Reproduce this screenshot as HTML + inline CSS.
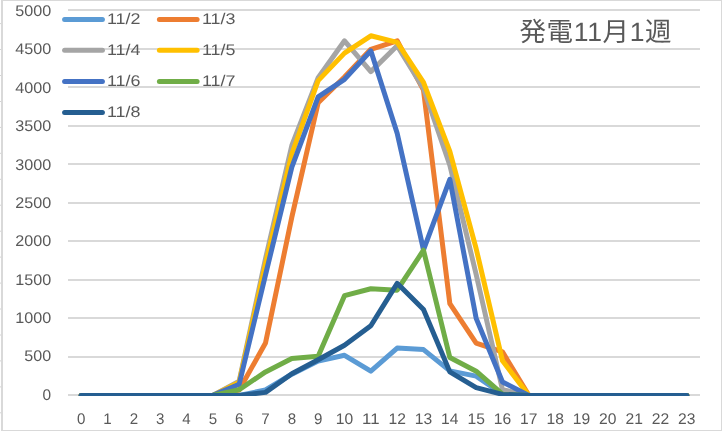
<!DOCTYPE html>
<html lang="ja"><head><meta charset="utf-8"><title>発電11月1週</title>
<style>
html,body{margin:0;padding:0;background:#fff;}
body{width:722px;height:431px;overflow:hidden;font-family:"Liberation Sans",sans-serif;}
svg{display:block;will-change:transform;}
svg text{text-rendering:geometricPrecision;font-family:"Liberation Sans",sans-serif;fill:#595959;}
</style></head>
<body>
<svg width="722" height="431" viewBox="0 0 722 431">
<rect x="0" y="0" width="722" height="431" fill="#fff"/>
<g stroke="#D4D4D4" stroke-width="1">
<line x1="0" y1="23.6" x2="1.5" y2="23.6"/>
<line x1="0" y1="49.5" x2="1.5" y2="49.5"/>
<line x1="0" y1="75.5" x2="1.5" y2="75.5"/>
<line x1="0" y1="101.5" x2="1.5" y2="101.5"/>
<line x1="0" y1="127.4" x2="1.5" y2="127.4"/>
<line x1="0" y1="153.3" x2="1.5" y2="153.3"/>
<line x1="0" y1="179.3" x2="1.5" y2="179.3"/>
<line x1="0" y1="205.2" x2="1.5" y2="205.2"/>
<line x1="0" y1="231.2" x2="1.5" y2="231.2"/>
<line x1="0" y1="257.1" x2="1.5" y2="257.1"/>
<line x1="0" y1="283.1" x2="1.5" y2="283.1"/>
<line x1="0" y1="309.0" x2="1.5" y2="309.0"/>
<line x1="0" y1="335.0" x2="1.5" y2="335.0"/>
<line x1="0" y1="360.9" x2="1.5" y2="360.9"/>
<line x1="0" y1="386.9" x2="1.5" y2="386.9"/>
<line x1="0" y1="412.8" x2="1.5" y2="412.8"/>
</g>
<rect x="2" y="0.5" width="719.5" height="430" fill="#fff" stroke="none"/>
<g fill="#D9D9D9">
<rect x="1" y="0" width="721" height="1"/>
<rect x="1" y="0" width="2" height="431"/>
<rect x="721" y="0" width="1" height="431"/>
<rect x="1" y="430" width="721" height="1"/>
</g>
<g stroke="#D9D9D9" stroke-width="2">
<line x1="68.0" y1="395" x2="700.0" y2="395"/>
<line x1="68.0" y1="357" x2="700.0" y2="357"/>
<line x1="68.0" y1="318" x2="700.0" y2="318"/>
<line x1="68.0" y1="280" x2="700.0" y2="280"/>
<line x1="68.0" y1="241" x2="700.0" y2="241"/>
<line x1="68.0" y1="203" x2="700.0" y2="203"/>
<line x1="68.0" y1="164" x2="700.0" y2="164"/>
<line x1="68.0" y1="126" x2="700.0" y2="126"/>
<line x1="68.0" y1="87" x2="700.0" y2="87"/>
<line x1="68.0" y1="49" x2="700.0" y2="49"/>
<line x1="68.0" y1="10" x2="700.0" y2="10"/>
</g>
<g font-size="15.4px" text-anchor="end">
<text x="51.2" y="399.80" textLength="8.6" lengthAdjust="spacingAndGlyphs">0</text>
<text x="51.2" y="361.42" textLength="26.9" lengthAdjust="spacingAndGlyphs">500</text>
<text x="51.2" y="323.04" textLength="36.0" lengthAdjust="spacingAndGlyphs">1000</text>
<text x="51.2" y="284.66" textLength="36.0" lengthAdjust="spacingAndGlyphs">1500</text>
<text x="51.2" y="246.28" textLength="36.0" lengthAdjust="spacingAndGlyphs">2000</text>
<text x="51.2" y="207.90" textLength="36.0" lengthAdjust="spacingAndGlyphs">2500</text>
<text x="51.2" y="169.52" textLength="36.0" lengthAdjust="spacingAndGlyphs">3000</text>
<text x="51.2" y="131.14" textLength="36.0" lengthAdjust="spacingAndGlyphs">3500</text>
<text x="51.2" y="92.76" textLength="36.0" lengthAdjust="spacingAndGlyphs">4000</text>
<text x="51.2" y="54.38" textLength="36.0" lengthAdjust="spacingAndGlyphs">4500</text>
<text x="51.2" y="16.00" textLength="36.0" lengthAdjust="spacingAndGlyphs">5000</text>
</g>
<g font-size="15.4px" text-anchor="middle">
<text x="81.17" y="423.9" textLength="8.4" lengthAdjust="spacingAndGlyphs">0</text>
<text x="107.50" y="423.9" textLength="8.4" lengthAdjust="spacingAndGlyphs">1</text>
<text x="133.83" y="423.9" textLength="8.4" lengthAdjust="spacingAndGlyphs">2</text>
<text x="160.17" y="423.9" textLength="8.4" lengthAdjust="spacingAndGlyphs">3</text>
<text x="186.50" y="423.9" textLength="8.4" lengthAdjust="spacingAndGlyphs">4</text>
<text x="212.83" y="423.9" textLength="8.4" lengthAdjust="spacingAndGlyphs">5</text>
<text x="239.17" y="423.9" textLength="8.4" lengthAdjust="spacingAndGlyphs">6</text>
<text x="265.50" y="423.9" textLength="8.4" lengthAdjust="spacingAndGlyphs">7</text>
<text x="291.83" y="423.9" textLength="8.4" lengthAdjust="spacingAndGlyphs">8</text>
<text x="318.17" y="423.9" textLength="8.4" lengthAdjust="spacingAndGlyphs">9</text>
<text x="344.50" y="423.9" textLength="17.4" lengthAdjust="spacingAndGlyphs">10</text>
<text x="370.83" y="423.9" textLength="17.4" lengthAdjust="spacingAndGlyphs">11</text>
<text x="397.17" y="423.9" textLength="17.4" lengthAdjust="spacingAndGlyphs">12</text>
<text x="423.50" y="423.9" textLength="17.4" lengthAdjust="spacingAndGlyphs">13</text>
<text x="449.83" y="423.9" textLength="17.4" lengthAdjust="spacingAndGlyphs">14</text>
<text x="476.17" y="423.9" textLength="17.4" lengthAdjust="spacingAndGlyphs">15</text>
<text x="502.50" y="423.9" textLength="17.4" lengthAdjust="spacingAndGlyphs">16</text>
<text x="528.83" y="423.9" textLength="17.4" lengthAdjust="spacingAndGlyphs">17</text>
<text x="555.17" y="423.9" textLength="17.4" lengthAdjust="spacingAndGlyphs">18</text>
<text x="581.50" y="423.9" textLength="17.4" lengthAdjust="spacingAndGlyphs">19</text>
<text x="607.83" y="423.9" textLength="17.4" lengthAdjust="spacingAndGlyphs">20</text>
<text x="634.17" y="423.9" textLength="17.4" lengthAdjust="spacingAndGlyphs">21</text>
<text x="660.50" y="423.9" textLength="17.4" lengthAdjust="spacingAndGlyphs">22</text>
<text x="686.83" y="423.9" textLength="17.4" lengthAdjust="spacingAndGlyphs">23</text>
</g>
<clipPath id="pc"><rect x="0" y="0" width="722" height="396"/></clipPath>
<g clip-path="url(#pc)" fill="none" stroke-width="5.0" stroke-linecap="round" stroke-linejoin="round">
<polyline stroke="#5B9BD5" points="81.17,395.38 107.50,395.38 133.83,395.38 160.17,395.38 186.50,395.38 212.83,395.38 239.17,395.38 265.50,390.00 291.83,374.21 318.17,361.12 344.50,355.27 370.83,371.13 397.17,348.03 423.50,349.57 449.83,370.90 476.17,376.13 502.50,394.23 528.83,395.38 555.17,395.38 581.50,395.38 607.83,395.38 634.17,395.38 660.50,395.38 686.83,395.38"/>
<polyline stroke="#ED7D31" points="81.17,395.38 107.50,395.38 133.83,395.38 160.17,395.38 186.50,395.38 212.83,395.38 239.17,390.07 265.50,343.02 291.83,217.13 318.17,102.79 344.50,76.99 370.83,49.27 397.17,40.80 423.50,90.08 449.83,303.60 476.17,343.02 502.50,351.88 528.83,395.38 555.17,395.38 581.50,395.38 607.83,395.38 634.17,395.38 660.50,395.38 686.83,395.38"/>
<polyline stroke="#A5A5A5" points="81.17,395.38 107.50,395.38 133.83,395.38 160.17,395.38 186.50,395.38 212.83,395.38 239.17,381.29 265.50,258.71 291.83,145.52 318.17,77.76 344.50,40.80 370.83,71.60 397.17,45.81 423.50,88.54 449.83,165.16 476.17,274.50 502.50,389.76 528.83,395.38 555.17,395.38 581.50,395.38 607.83,395.38 634.17,395.38 660.50,395.38 686.83,395.38"/>
<polyline stroke="#FFC000" points="81.17,395.38 107.50,395.38 133.83,395.38 160.17,395.38 186.50,395.38 212.83,395.38 239.17,382.30 265.50,264.10 291.83,153.99 318.17,80.61 344.50,53.12 370.83,35.80 397.17,42.34 423.50,82.38 449.83,151.29 476.17,248.70 502.50,360.81 528.83,395.38 555.17,395.38 581.50,395.38 607.83,395.38 634.17,395.38 660.50,395.38 686.83,395.38"/>
<polyline stroke="#4472C4" points="81.17,395.38 107.50,395.38 133.83,395.38 160.17,395.38 186.50,395.38 212.83,395.38 239.17,384.22 265.50,274.88 291.83,167.08 318.17,96.86 344.50,79.30 370.83,50.81 397.17,133.20 423.50,249.85 449.83,179.40 476.17,318.38 502.50,381.99 528.83,395.38 555.17,395.38 581.50,395.38 607.83,395.38 634.17,395.38 660.50,395.38 686.83,395.38"/>
<polyline stroke="#70AD47" points="81.17,395.38 107.50,395.38 133.83,395.38 160.17,395.38 186.50,395.38 212.83,395.38 239.17,389.76 265.50,371.90 291.83,358.58 318.17,356.35 344.50,295.67 370.83,288.74 397.17,290.13 423.50,250.24 449.83,357.50 476.17,371.21 502.50,394.23 528.83,395.38 555.17,395.38 581.50,395.38 607.83,395.38 634.17,395.38 660.50,395.38 686.83,395.38"/>
<polyline stroke="#255E91" points="81.17,395.38 107.50,395.38 133.83,395.38 160.17,395.38 186.50,395.38 212.83,395.38 239.17,395.38 265.50,392.38 291.83,373.82 318.17,359.73 344.50,345.26 370.83,325.70 397.17,283.35 423.50,309.53 449.83,371.90 476.17,387.61 502.50,394.38 528.83,395.38 555.17,395.38 581.50,395.38 607.83,395.38 634.17,395.38 660.50,395.38 686.83,395.38"/>
</g>
<g stroke-width="5" stroke-linecap="round">
<line x1="64.6" y1="19.5" x2="102.4" y2="19.5" stroke="#5B9BD5"/>
<line x1="159.4" y1="19.5" x2="197.1" y2="19.5" stroke="#ED7D31"/>
<line x1="64.6" y1="50.3" x2="102.4" y2="50.3" stroke="#A5A5A5"/>
<line x1="159.4" y1="50.3" x2="197.1" y2="50.3" stroke="#FFC000"/>
<line x1="64.6" y1="81.6" x2="102.4" y2="81.6" stroke="#4472C4"/>
<line x1="159.4" y1="81.6" x2="197.1" y2="81.6" stroke="#70AD47"/>
<line x1="64.6" y1="112.6" x2="102.4" y2="112.6" stroke="#255E91"/>
</g>
<g font-size="15.4px">
<text x="107.0" y="24.1" textLength="33.5" lengthAdjust="spacingAndGlyphs">11/2</text>
<text x="202.0" y="24.1" textLength="33.5" lengthAdjust="spacingAndGlyphs">11/3</text>
<text x="107.0" y="54.9" textLength="33.5" lengthAdjust="spacingAndGlyphs">11/4</text>
<text x="202.0" y="54.9" textLength="33.5" lengthAdjust="spacingAndGlyphs">11/5</text>
<text x="107.0" y="86.2" textLength="33.5" lengthAdjust="spacingAndGlyphs">11/6</text>
<text x="202.0" y="86.2" textLength="33.5" lengthAdjust="spacingAndGlyphs">11/7</text>
<text x="107.0" y="117.2" textLength="33.5" lengthAdjust="spacingAndGlyphs">11/8</text>
</g>
<text x="519.5" y="41" font-size="26.5px" textLength="152" lengthAdjust="spacing" style="font-family:'Liberation Sans','Noto Sans CJK JP',sans-serif;fill:#595959;">発電11月1週</text>
</svg>
</body></html>
